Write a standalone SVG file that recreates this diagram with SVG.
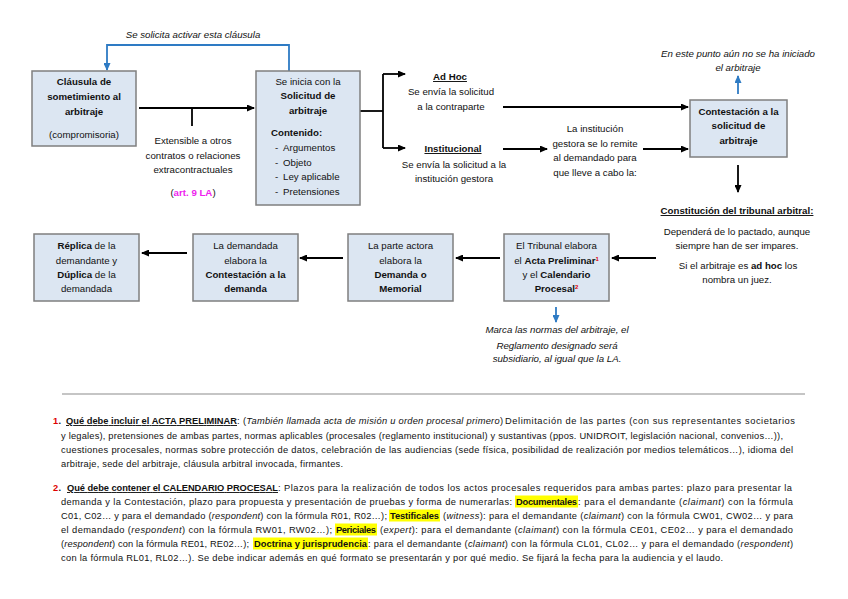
<svg xmlns="http://www.w3.org/2000/svg" width="848" height="599" viewBox="0 0 848 599">
<defs>
<style>
text{font-family:"Liberation Sans",Arial,sans-serif;fill:#111}
.b{font-size:9.7px;text-anchor:middle}
.bl{font-size:9.7px}
.bold{font-weight:bold}
.it{font-style:italic}
.u{text-decoration:underline}
.p{font-size:9.3px}
.box{fill:#dce6f2;stroke:#7f7f7f;stroke-width:1.5}
.ln{fill:none;stroke:#000;stroke-width:1.8}
.bln{fill:none;stroke:#2e7bc4;stroke-width:1.8}
.hl{fill:#ffff00}
.red{fill:#e00000;font-weight:bold}
.sup{fill:#e00000;font-size:6px;font-weight:bold}
</style>
<marker id="ah" markerWidth="8" markerHeight="7" refX="7" refY="3.5" orient="auto" markerUnits="userSpaceOnUse">
<path d="M0,0 L8,3.5 L0,7 Z" fill="#000"/>
</marker>
<marker id="bh" markerWidth="8" markerHeight="7" refX="7" refY="3.5" orient="auto" markerUnits="userSpaceOnUse">
<path d="M0,0 L8,3.5 L0,7 Z" fill="#2e7bc4"/>
</marker>
</defs>

<g id="connectors">
<path class="bln" d="M289,71 V45 H107 V70" marker-end="url(#bh)"/>
<path class="ln" d="M139,108 H254" marker-end="url(#ah)"/>
<path class="ln" d="M192,108 V126"/>
<path class="ln" d="M360,111 H383"/>
<path class="ln" d="M383,74 V148"/>
<path class="ln" d="M383,74 H405" marker-end="url(#ah)"/>
<path class="ln" d="M383,148 H405" marker-end="url(#ah)"/>
<path class="ln" d="M503,107 H688" marker-end="url(#ah)"/>
<path class="ln" d="M503,149 H547" marker-end="url(#ah)"/>
<path class="ln" d="M643,149 H688" marker-end="url(#ah)"/>
<path class="bln" d="M738,94 V76" marker-end="url(#bh)"/>
<path class="ln" d="M738,165 V192" marker-end="url(#ah)"/>
<path class="ln" d="M656,258 H612" marker-end="url(#ah)"/>
<path class="bln" d="M556,307 V322" marker-end="url(#bh)"/>
<path class="ln" d="M500,258 H456" marker-end="url(#ah)"/>
<path class="ln" d="M343,258 H300" marker-end="url(#ah)"/>
<path class="ln" d="M187,253 H142" marker-end="url(#ah)"/>
</g>

<g id="label-activar">
<text class="b it" x="193" y="38">Se solicita activar esta cláusula</text>
</g>

<g id="node-clausula">
<rect class="box" x="32" y="71" width="104" height="75"/>
<text class="b bold" x="84" y="85">Cláusula de</text>
<text class="b bold" x="84" y="100">sometimiento al</text>
<text class="b bold" x="84" y="115">arbitraje</text>
<text class="b" x="84" y="138">(compromisoria)</text>
</g>

<g id="label-extensible">
<text class="b" x="193" y="144">Extensible a otros</text>
<text class="b" x="193" y="159">contratos o relaciones</text>
<text class="b" x="193" y="173">extracontractuales</text>
<text class="b" x="193" y="196">(<tspan class="bold" style="fill:#ee22ee">art. 9 LA</tspan>)</text>
</g>

<g id="node-solicitud">
<rect class="box" x="256" y="71" width="104" height="134"/>
<text class="b" x="308" y="85">Se inicia con la</text>
<text class="b bold" x="308" y="99">Solicitud de</text>
<text class="b bold" x="308" y="114">arbitraje</text>
<text class="bl bold" x="271" y="136">Contenido:</text>
<text class="bl" x="275" y="151">-</text><text class="bl" x="283" y="151">Argumentos</text>
<text class="bl" x="275" y="166">-</text><text class="bl" x="283" y="166">Objeto</text>
<text class="bl" x="275" y="180">-</text><text class="bl" x="283" y="180">Ley aplicable</text>
<text class="bl" x="275" y="195">-</text><text class="bl" x="283" y="195">Pretensiones</text>
</g>

<g id="label-adhoc">
<text class="b bold u" x="450" y="80">Ad Hoc</text>
<text class="b" x="451" y="95">Se envía la solicitud</text>
<text class="b" x="451" y="110">a la contraparte</text>
</g>

<g id="label-institucional">
<text class="b bold u" x="453" y="152">Institucional</text>
<text class="b" x="454" y="168">Se envía la solicitud a la</text>
<text class="b" x="454" y="182">institución gestora</text>
</g>

<g id="label-institucion-remite">
<text class="b" x="595" y="132">La institución</text>
<text class="b" x="595" y="147">gestora se lo remite</text>
<text class="b" x="595" y="161">al demandado para</text>
<text class="b" x="595" y="176">que lleve a cabo la:</text>
</g>

<g id="label-no-iniciado">
<text class="b it" x="738" y="57">En este punto aún no se ha iniciado</text>
<text class="b it" x="738" y="71">el arbitraje</text>
</g>

<g id="node-contestacion-solicitud">
<rect class="box" x="690" y="100" width="97" height="57"/>
<text class="b bold" x="738.5" y="115">Contestación a la</text>
<text class="b bold" x="738.5" y="129">solicitud de</text>
<text class="b bold" x="738.5" y="144">arbitraje</text>
</g>

<g id="label-constitucion">
<text class="b bold u" x="737" y="214">Constitución del tribunal arbitral:</text>
<text class="b" x="737" y="235">Dependerá de lo pactado, aunque</text>
<text class="b" x="737" y="249">siempre han de ser impares.</text>
<text class="b" x="738" y="269">Si el arbitraje es <tspan class="bold">ad hoc</tspan> los</text>
<text class="b" x="737" y="283">nombra un juez.</text>
</g>

<g id="node-tribunal">
<rect class="box" x="504" y="234" width="105" height="67"/>
<text class="b" x="556.5" y="249">El Tribunal elabora</text>
<text class="b" x="556.5" y="264">el <tspan class="bold">Acta Preliminar</tspan><tspan class="sup" dy="-3.5">1</tspan></text>
<text class="b" x="556.5" y="278">y el <tspan class="bold">Calendario</tspan></text>
<text class="b" x="556.5" y="292"><tspan class="bold">Procesal</tspan><tspan class="sup" dy="-3.5">2</tspan></text>
</g>

<g id="label-marca">
<text class="b it" x="557" y="333">Marca las normas del arbitraje, el</text>
<text class="b it" x="557" y="349">Reglamento designado será</text>
<text class="b it" x="557" y="362">subsidiario, al igual que la LA.</text>
</g>

<g id="node-demanda">
<rect class="box" x="348" y="234" width="105" height="67"/>
<text class="b" x="400.5" y="249">La parte actora</text>
<text class="b" x="400.5" y="264">elabora la</text>
<text class="b bold" x="400.5" y="278">Demanda o</text>
<text class="b bold" x="400.5" y="292">Memorial</text>
</g>

<g id="node-contestacion-demanda">
<rect class="box" x="193" y="234" width="105" height="67"/>
<text class="b" x="245.5" y="249">La demandada</text>
<text class="b" x="245.5" y="264">elabora la</text>
<text class="b bold" x="245.5" y="278">Contestación a la</text>
<text class="b bold" x="245.5" y="292">demanda</text>
</g>

<g id="node-replica">
<rect class="box" x="34" y="234" width="105" height="67"/>
<text class="b" x="86.5" y="249"><tspan class="bold">Réplica</tspan> de la</text>
<text class="b" x="86.5" y="264">demandante y</text>
<text class="b" x="86.5" y="278"><tspan class="bold">Dúplica</tspan> de la</text>
<text class="b" x="86.5" y="292">demandada</text>
</g>

<line x1="62" y1="394" x2="805" y2="394" stroke="#8c8c8c" stroke-width="1.2"/>

<g id="notes">
<rect class="hl" x="515" y="495.5" width="63" height="12"/>
<rect class="hl" x="389" y="509.5" width="51" height="12"/>
<rect class="hl" x="335" y="523.5" width="42" height="12"/>
<rect class="hl" x="253" y="537.5" width="115" height="12"/>

<text class="p red" x="53" y="424">1</text><text class="p bold" x="58.5" y="424">.</text>
<text class="p bold u" x="66" y="424" textLength="171" lengthAdjust="spacing">Qué debe incluir el ACTA PRELIMINAR</text>
<text class="p" x="237" y="424">:</text>
<text class="p" x="243" y="424" textLength="260" lengthAdjust="spacing">(<tspan class="it">También llamada acta de misión u orden procesal primero</tspan>)</text>
<text class="p" x="505" y="424" textLength="290" lengthAdjust="spacing">Delimitación de las partes (con sus representantes societarios</text>
<text class="p" x="61" y="439" textLength="722" lengthAdjust="spacing">y legales), pretensiones de ambas partes, normas aplicables (procesales (reglamento institucional) y sustantivas (ppos. UNIDROIT, legislación nacional, convenios…)),</text>
<text class="p" x="61" y="453" textLength="732" lengthAdjust="spacing">cuestiones procesales, normas sobre protección de datos, celebración de las audiencias (sede física, posibilidad de realización por medios telemáticos…), idioma del</text>
<text class="p" x="61" y="467" textLength="282" lengthAdjust="spacing">arbitraje, sede del arbitraje, cláusula arbitral invocada, firmantes.</text>

<text class="p red" x="53" y="491">2</text><text class="p bold" x="58.5" y="491">.</text>
<text class="p bold u" x="67" y="491" textLength="211" lengthAdjust="spacing">Qué debe contener el CALENDARIO PROCESAL</text>
<text class="p" x="278" y="491" textLength="514" lengthAdjust="spacing">: Plazos para la realización de todos los actos procesales requeridos para ambas partes: plazo para presentar la</text>

<text class="p" x="61" y="505" textLength="451" lengthAdjust="spacing">demanda y la Contestación, plazo para propuesta y presentación de pruebas y forma de numerarlas:</text>
<text class="p bold" x="516" y="505" textLength="61" lengthAdjust="spacing">Documentales</text>
<text class="p" x="578" y="505" textLength="215" lengthAdjust="spacing">: para el demandante (<tspan class="it">claimant</tspan>) con la fórmula</text>

<text class="p" x="61" y="519" textLength="326" lengthAdjust="spacing">C01, C02… y para el demandado (<tspan class="it">respondent</tspan>) con la fórmula R01, R02…);</text>
<text class="p bold" x="390" y="519" textLength="49" lengthAdjust="spacing">Testificales</text>
<text class="p" x="443" y="519" textLength="350" lengthAdjust="spacing">(<tspan class="it">witness</tspan>): para el demandante (<tspan class="it">claimant</tspan>) con la fórmula CW01, CW02… y para</text>

<text class="p" x="61" y="533" textLength="271" lengthAdjust="spacing">el demandado (<tspan class="it">respondent</tspan>) con la fórmula RW01, RW02…);</text>
<text class="p bold" x="336" y="533" textLength="40" lengthAdjust="spacing">Periciales</text>
<text class="p" x="380" y="533" textLength="413" lengthAdjust="spacing">(<tspan class="it">expert</tspan>): para el demandante (<tspan class="it">claimant</tspan>) con la fórmula CE01, CE02… y para el demandado</text>

<text class="p" x="61" y="547" textLength="188" lengthAdjust="spacing">(<tspan class="it">respondent</tspan>) con la fórmula RE01, RE02…);</text>
<text class="p bold" x="254" y="547" textLength="113" lengthAdjust="spacing">Doctrina y jurisprudencia</text>
<text class="p" x="368" y="547" textLength="425" lengthAdjust="spacing">: para el demandante (<tspan class="it">claimant</tspan>) con la fórmula CL01, CL02… y para el demandado (<tspan class="it">respondent</tspan>)</text>

<text class="p" x="61" y="561" textLength="662" lengthAdjust="spacing">con la fórmula RL01, RL02…). Se debe indicar además en qué formato se presentarán y por qué medio. Se fijará la fecha para la audiencia y el laudo.</text>
</g>
</svg>
